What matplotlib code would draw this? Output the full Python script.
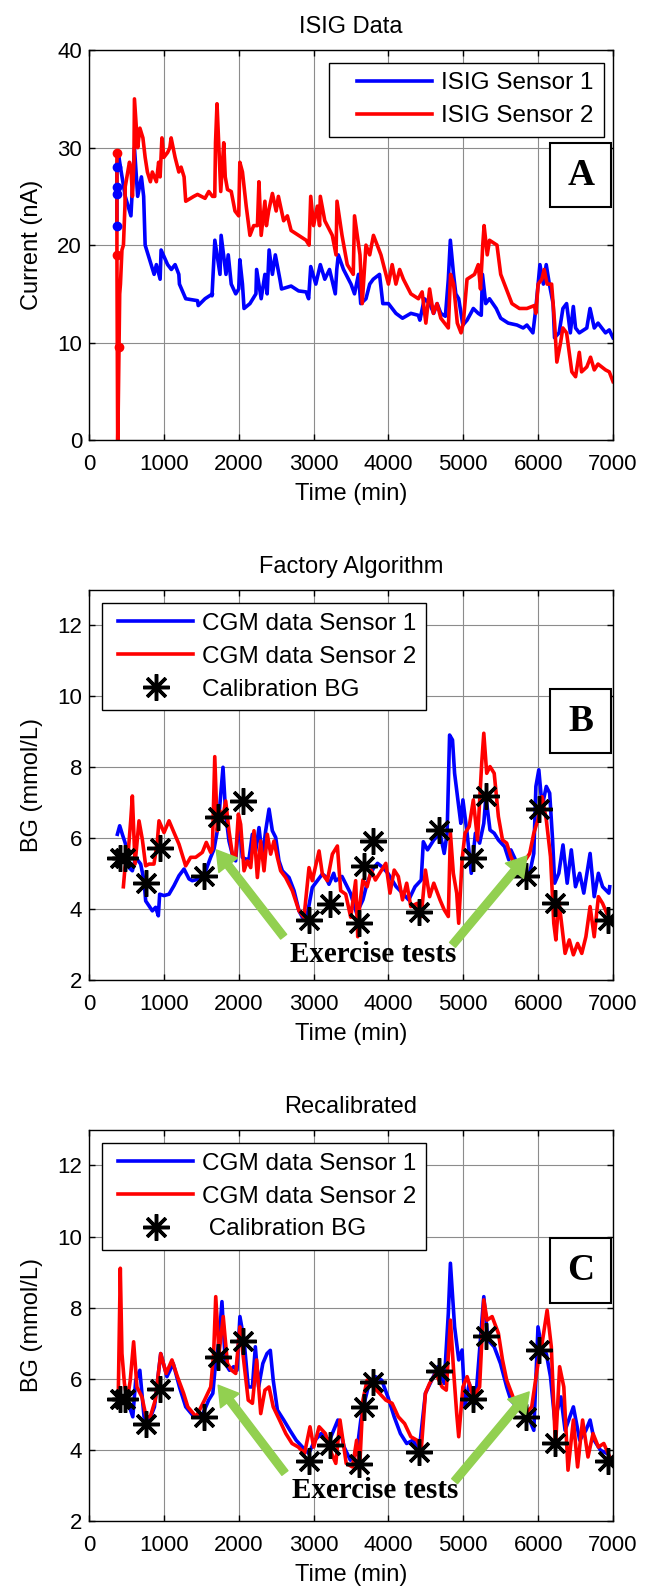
import numpy as np
import matplotlib
matplotlib.use('Agg')
import matplotlib.pyplot as plt
from matplotlib.patches import Rectangle
from matplotlib.lines import Line2D
from matplotlib.legend_handler import HandlerLine2D

plt.rcParams['font.family'] = ['Liberation Sans', 'DejaVu Sans']
plt.rcParams['font.size'] = 16

# ---------------- data ----------------
# Panel A: ISIG (nA)
isig1_t = [373, 373, 373, 373, 380, 400, 420, 484, 560, 607, 650, 700, 730, 750, 790, 870, 900, 950, 963, 1050,
           1100, 1150, 1200, 1208, 1292, 1450, 1459, 1550, 1650, 1643, 1681, 1750, 1765, 1830, 1860, 1900, 1960,
           2000, 2015, 2050, 2071, 2150, 2230, 2239, 2300, 2350, 2380, 2406, 2450, 2489, 2550, 2572, 2700, 2800,
           2900, 2934, 2962, 3030, 3090, 3150, 3213, 3290, 3310, 3330, 3400, 3500, 3547, 3600, 3630, 3700, 3750,
           3797, 3881, 3925, 4000, 4100, 4188, 4300, 4399, 4420, 4480, 4550, 4605, 4650, 4700, 4761, 4800, 4827,
           4870, 4900, 4939, 4994, 5050, 5100, 5134, 5200, 5240, 5256, 5300, 5350, 5440, 5500, 5600, 5718, 5800,
           5850, 5930, 5969, 6024, 6070, 6108, 6150, 6200, 6219, 6280, 6331, 6380, 6430, 6470, 6500, 6550, 6650,
           6693, 6750, 6800, 6900, 6950, 7000]
isig1_v = [22.0, 25.2, 26.0, 28.0, 28.5, 29.0, 28.0, 25.0, 23.0, 30.0, 25.0, 27.0, 25.0, 20.0, 19.0, 17.0, 18.0, 16.5, 19.5, 18.0,
           17.5, 18.0, 17.0, 16.0, 14.5, 14.3, 13.8, 14.5, 15.0, 14.8, 20.5, 17.0, 21.0, 17.0, 19.0, 16.0, 15.0,
           15.5, 18.5, 16.0, 13.5, 14.0, 15.0, 17.5, 14.5, 17.0, 15.0, 19.5, 17.0, 19.0, 16.5, 15.5, 15.8, 15.3,
           15.2, 14.5, 17.8, 16.0, 18.0, 16.5, 17.5, 15.0, 17.5, 19.0, 17.5, 16.0, 15.0, 17.0, 14.0, 14.5, 16.0,
           16.5, 17.0, 14.0, 14.0, 13.0, 12.5, 13.0, 12.8, 12.3, 14.5, 14.0, 13.0, 14.0, 13.0, 12.7, 16.5, 20.5,
           17.0, 15.0, 14.5, 11.8, 12.3, 13.0, 13.5, 13.0, 12.8, 17.0, 14.0, 14.5, 13.5, 12.5, 12.0, 11.8, 11.5,
           11.8, 11.0, 13.5, 18.0, 16.0, 18.0, 16.0, 14.0, 10.5, 11.0, 13.5, 14.0, 11.0, 13.7, 11.5, 11.0, 11.5,
           13.5, 11.5, 12.0, 11.0, 11.3, 10.5]
isig2_t = [373, 373, 383, 390, 401, 410, 420, 440, 460, 480, 484, 540, 560, 580, 600, 607, 650, 680, 720, 750,
           780, 820, 846, 900, 930, 950, 974, 1000, 1050, 1080, 1097, 1150, 1200, 1230, 1270, 1292, 1400, 1450,
           1550, 1600, 1650, 1680, 1690, 1710, 1740, 1760, 1800, 1820, 1850, 1900, 1950, 2000, 2015, 2050, 2100,
           2150, 2200, 2250, 2270, 2300, 2350, 2370, 2400, 2450, 2500, 2530, 2600, 2650, 2700, 2800, 2900, 2940,
           2962, 3000, 3050, 3080, 3090, 3150, 3250, 3300, 3313, 3380, 3450, 3530, 3547, 3620, 3650, 3700, 3750,
           3800, 3850, 3900, 3950, 4000, 4050, 4100, 4150, 4200, 4300, 4400, 4450, 4500, 4550, 4600, 4650, 4700,
           4750, 4800, 4830, 4870, 4920, 4970, 5000, 5050, 5150, 5200, 5230, 5260, 5278, 5320, 5350, 5450, 5500,
           5600, 5650, 5750, 5850, 5950, 5970, 6000, 6050, 6080, 6120, 6180, 6220, 6250, 6300, 6330, 6380, 6450,
           6500, 6550, 6580, 6650, 6700, 6750, 6800, 6900, 6950, 7000]
isig2_v = [29.5, 19.0, 0.0, 3.0, 9.5, 15.0, 16.0, 19.5, 20.0, 24.0, 26.0, 28.5, 28.0, 25.0, 28.5, 35.0, 30.0, 32.0, 31.0, 29.0,
           27.5, 26.5, 27.5, 26.5, 28.5, 27.0, 31.0, 29.0, 29.5, 30.0, 31.0, 29.0, 27.5, 28.0, 27.0, 24.5, 25.0, 25.2,
           24.8, 25.5, 25.0, 25.0, 30.5, 34.5, 29.0, 25.5, 30.5, 27.0, 25.7, 25.5, 23.5, 23.0, 28.5, 27.5, 24.0,
           21.0, 22.0, 22.0, 26.5, 21.0, 24.5, 22.0, 23.5, 25.3, 23.5, 25.0, 22.5, 23.0, 21.5, 21.0, 20.5, 20.0,
           25.0, 22.0, 24.0, 22.0, 25.0, 22.5, 21.0, 19.0, 24.5, 21.0, 18.0, 17.0, 23.0, 19.0, 14.0, 20.0, 19.0,
           21.0, 20.0, 19.0, 17.5, 16.0, 18.0, 16.0, 17.5, 16.5, 15.0, 14.5, 15.2, 12.0, 15.5, 13.0, 14.0, 12.5,
           12.0, 11.5, 17.0, 16.0, 12.0, 11.0, 12.0, 16.5, 17.0, 18.0, 15.5, 20.0, 22.0, 19.0, 20.5, 20.0, 17.0,
           15.0, 14.0, 13.5, 13.5, 13.8, 13.0, 16.0, 16.5, 17.5, 16.0, 16.0, 12.0, 8.0, 10.0, 11.5, 11.0, 7.0,
           6.5, 9.0, 7.0, 7.5, 8.5, 7.2, 7.8, 7.2, 7.0, 6.0]
# start-up points drawn with dots
isig1_dot_t = [373, 373, 373, 373]
isig1_dot_v = [28.0, 26.0, 25.2, 22.0]
isig2_dot_t = [373, 373, 401]
isig2_dot_v = [29.5, 19.0, 9.5]

# Calibration blood glucose (mmol/L)
cal_t = [418, 485, 763, 947, 1531, 1726, 2061, 2935, 3213, 3603, 3670, 3798, 4411, 4672, 5135, 5302, 5842, 6014,
         6221, 6933]
cal_v = [5.43, 5.43, 4.73, 5.72, 4.93, 6.61, 7.05, 3.69, 4.14, 3.6, 5.22, 5.92, 3.93, 6.23, 5.43, 7.19, 4.92, 6.82,
         4.18, 3.69]

# Panel B: factory algorithm
fac1_t = [379, 410, 445, 481, 512, 534, 579, 623, 690, 735, 757, 802, 846, 890, 926, 944, 1002, 1069, 1135, 1202,
          1269, 1336, 1380, 1470, 1559, 1625, 1670, 1714, 1745, 1790, 1826, 1870, 1924, 1959, 2004, 2048, 2093,
          2137, 2182, 2227, 2271, 2316, 2360, 2405, 2449, 2494, 2538, 2583, 2672, 2739, 2805, 2850, 2917, 2983,
          3050, 3117, 3158, 3206, 3269, 3295, 3380, 3492, 3575, 3659, 3715, 3798, 3854, 3910, 3993, 4104, 4188,
          4271, 4355, 4438, 4466, 4522, 4606, 4689, 4745, 4784, 4817, 4856, 4884, 4939, 4967, 4995, 5051, 5107,
          5162, 5218, 5274, 5302, 5357, 5413, 5469, 5552, 5608, 5636, 5719, 5803, 5887, 5942, 5970, 6009, 6053,
          6109, 6154, 6193, 6221, 6276, 6332, 6388, 6443, 6499, 6555, 6610, 6694, 6749, 6805, 6861, 6945, 6956]
fac1_v = [6.11, 6.35, 6.11, 5.88, 5.64, 5.17, 5.08, 5.46, 5.27, 4.8, 4.23, 4.09, 3.95, 4.05, 3.81, 4.42, 4.38, 4.42,
          4.66, 4.94, 5.13, 4.85, 4.8, 4.85, 5.08, 5.46, 5.69, 6.21, 6.86, 8.0, 6.68, 5.92, 5.46, 5.36, 6.58, 5.46,
          5.41, 5.41, 6.11, 5.64, 6.3, 5.46, 6.21, 6.82, 6.21, 6.02, 5.36, 5.08, 4.89, 4.52, 3.95, 3.77, 3.86,
          4.61, 4.8, 4.99, 4.92, 4.7, 5.01, 4.8, 4.92, 4.45, 3.88, 4.26, 4.73, 5.15, 5.29, 5.2, 5.01, 4.63, 4.45,
          4.26, 4.63, 4.82, 5.9, 5.67, 5.95, 6.14, 5.57, 6.14, 8.91, 8.77, 7.83, 6.89, 6.42, 7.08, 6.14, 5.01,
          6.14, 5.86, 6.42, 7.17, 6.23, 6.14, 5.95, 5.76, 5.39, 5.67, 5.29, 5.1, 5.01, 5.57, 7.46, 7.93, 6.89,
          7.46, 7.27, 5.95, 4.73, 5.01, 5.81, 4.73, 5.67, 4.63, 5.01, 4.45, 5.57, 4.35, 5.01, 4.63, 4.45, 4.63]
fac2_t = [459, 481, 525, 557, 579, 615, 668, 712, 757, 802, 868, 913, 935, 1002, 1069, 1135, 1202, 1291, 1358,
          1425, 1514, 1567, 1625, 1648, 1680, 1714, 1750, 1781, 1826, 1870, 1915, 1959, 1995, 2026, 2071, 2115,
          2160, 2204, 2249, 2293, 2338, 2382, 2427, 2471, 2516, 2560, 2627, 2716, 2805, 2872, 2939, 2983, 3073,
          3117, 3184, 3251, 3318, 3362, 3429, 3496, 3562, 3590, 3614, 3659, 3715, 3770, 3826, 3882, 3965, 4021,
          4077, 4132, 4188, 4244, 4299, 4383, 4438, 4494, 4550, 4606, 4689, 4745, 4800, 4828, 4867, 4912, 4939,
          4984, 5023, 5079, 5134, 5190, 5246, 5274, 5313, 5357, 5413, 5469, 5524, 5580, 5636, 5719, 5831, 5887,
          5942, 5998, 6053, 6109, 6165, 6209, 6237, 6276, 6360, 6416, 6471, 6527, 6583, 6638, 6694, 6749, 6805,
          6861, 6917]
fac2_v = [4.63, 5.17, 5.64, 6.49, 7.19, 5.27, 6.49, 5.97, 5.22, 5.27, 5.27, 5.92, 6.49, 6.16, 6.49, 6.16, 5.83,
          5.22, 5.46, 5.46, 5.6, 5.88, 5.6, 5.69, 8.3, 6.21, 6.77, 6.49, 7.05, 6.21, 5.55, 5.46, 6.68, 6.39, 5.08,
          5.36, 5.17, 6.21, 4.89, 5.92, 5.08, 6.11, 5.55, 5.92, 5.46, 5.08, 4.89, 4.52, 3.95, 3.77, 5.17, 4.8,
          5.64, 4.99, 4.8, 5.55, 5.78, 4.52, 4.42, 3.77, 4.8, 3.22, 4.07, 4.82, 4.63, 5.1, 4.82, 5.01, 5.29, 4.45,
          5.1, 4.92, 4.26, 4.73, 4.07, 4.16, 3.79, 5.1, 4.35, 4.73, 4.26, 3.98, 3.79, 6.14, 5.01, 4.45, 3.6, 5.39,
          6.14, 6.33, 7.08, 5.95, 8.11, 8.96, 7.83, 8.02, 7.83, 6.61, 5.95, 5.86, 5.48, 5.1, 5.39, 5.57, 6.14,
          6.52, 7.17, 6.52, 5.48, 3.6, 3.13, 4.26, 2.75, 3.13, 2.71, 3.03, 2.75, 3.22, 4.07, 3.22, 4.35, 4.16, 3.88]

# Panel C: recalibrated
rec1_t = [401, 485, 540, 585, 624, 679, 735, 791, 874, 958, 1041, 1125, 1208, 1292, 1403, 1515, 1598, 1654, 1682,
          1737, 1776, 1821, 1877, 1932, 1977, 2016, 2071, 2127, 2183, 2222, 2266, 2322, 2378, 2422, 2461, 2517,
          2601, 2684, 2768, 2851, 2935, 3018, 3102, 3213, 3325, 3408, 3492, 3575, 3631, 3687, 3742, 3826, 3910,
          3993, 4077, 4160, 4244, 4327, 4411, 4494, 4578, 4661, 4745, 4800, 4828, 4884, 4939, 4984, 5023, 5079,
          5162, 5274, 5329, 5413, 5497, 5580, 5636, 5719, 5803, 5887, 5942, 5998, 6053, 6109, 6165, 6221, 6304,
          6360, 6471, 6555, 6638, 6694, 6749, 6833, 6917]
rec1_v = [5.45, 5.45, 5.21, 4.93, 5.96, 6.24, 4.93, 4.74, 5.21, 6.71, 6.06, 6.43, 5.77, 5.21, 4.93, 4.98, 5.4, 5.59,
          6.24, 7.09, 8.17, 6.43, 6.24, 6.34, 6.24, 7.75, 7.09, 5.77, 5.77, 6.9, 5.77, 6.43, 6.71, 6.8, 5.96, 5.12,
          4.84, 4.55, 4.27, 4.08, 3.9, 4.27, 4.46, 4.27, 4.84, 4.08, 3.71, 3.9, 4.84, 5.4, 5.87, 6.06, 5.96, 5.49,
          4.93, 4.46, 4.18, 4.27, 3.99, 5.59, 5.96, 6.34, 5.87, 7.84, 9.25, 7.46, 6.53, 6.81, 5.21, 5.87, 5.31,
          8.31, 7.09, 6.9, 6.43, 5.77, 5.4, 5.21, 5.02, 4.84, 4.55, 7.46, 6.81, 6.71, 6.06, 4.84, 5.49, 4.55,
          5.21, 4.27, 4.55, 4.84, 4.27, 3.99, 3.9]
rec2_t = [390, 418, 440, 473, 512, 551, 596, 640, 707, 763, 818, 885, 958, 1030, 1108, 1181, 1264, 1320, 1431,
          1543, 1626, 1665, 1693, 1737, 1793, 1849, 1905, 1960, 2016, 2071, 2127, 2183, 2239, 2294, 2350, 2405,
          2461, 2545, 2629, 2712, 2796, 2879, 2952, 3002, 3074, 3158, 3241, 3297, 3353, 3436, 3520, 3575, 3614,
          3659, 3715, 3798, 3881, 3965, 4049, 4132, 4216, 4299, 4383, 4438, 4494, 4550, 4633, 4717, 4773, 4828,
          4873, 4912, 4939, 4995, 5051, 5134, 5218, 5274, 5318, 5385, 5469, 5524, 5580, 5664, 5747, 5831, 5914,
          5998, 6053, 6120, 6176, 6232, 6287, 6343, 6399, 6471, 6527, 6594, 6666, 6733, 6805, 6877, 6956]
rec2_v = [5.4, 9.11, 6.71, 5.87, 5.4, 5.96, 7.04, 5.77, 5.49, 4.93, 4.93, 5.4, 6.71, 6.15, 6.53, 6.06, 5.59, 5.21,
          4.93, 5.4, 5.77, 6.71, 8.31, 6.71, 7.75, 6.43, 6.24, 6.15, 7.46, 6.43, 5.4, 5.31, 6.53, 5.02, 5.68,
          5.77, 5.21, 4.84, 4.46, 4.18, 4.08, 3.9, 4.65, 4.08, 4.65, 4.46, 3.9, 3.62, 4.84, 3.62, 3.52, 4.27,
          3.43, 5.4, 5.96, 5.77, 5.59, 5.4, 5.31, 4.93, 4.74, 4.37, 4.27, 3.99, 5.59, 5.87, 6.15, 5.77, 5.68,
          7.65, 6.15, 5.02, 4.37, 5.77, 6.06, 5.49, 5.77, 8.22, 7.65, 7.75, 7.28, 6.53, 5.96, 5.49, 5.12, 5.02,
          5.21, 6.43, 7.0, 7.93, 6.9, 4.08, 6.34, 5.77, 3.43, 4.84, 3.52, 4.84, 3.8, 4.46, 4.08, 4.18, 3.8]

# arrows (tail -> head) and annotation positions
arrows_b = [((2600, 3.22), (1700, 5.67)), ((4856, 2.99), (5850, 5.5))]
arrows_c = [((2617, 3.35), (1725, 5.82)), ((4884, 3.12), (5880, 5.63))]
text_b = (3800, 2.71)
text_c = (3820, 2.85)

BLUE = '#0000ff'
RED = '#ff0000'
GREEN = '#92d050'
STAR = (8, 2, 0)
FS = 17.5

fig = plt.figure(figsize=(6.54, 15.87), dpi=100)
axA = fig.add_axes([0.1361, 0.7227, 0.8012, 0.2457])
axB = fig.add_axes([0.1361, 0.3825, 0.8012, 0.2457])
axC = fig.add_axes([0.1361, 0.0416, 0.8012, 0.2464])


def style(ax):
    ax.set_xlim(0, 7000)
    ax.set_xticks(range(0, 7001, 1000))
    ax.grid(True, color='0.55', linewidth=0.8)
    ax.set_axisbelow(True)
    ax.tick_params(direction='in', top=True, right=True, length=4, width=1, labelsize=16)
    ax.tick_params(axis='x', pad=10)
    ax.tick_params(axis='y', pad=5)
    for s in ax.spines.values():
        s.set_linewidth(1.0)
    ax.set_xlabel('Time (min)', fontsize=17, labelpad=6)


def letter_box(ax, letter, y0, y1):
    ax.add_patch(Rectangle((0.88, y0), 0.117, y1 - y0, transform=ax.transAxes, facecolor='white',
                           edgecolor='black', linewidth=1.5, zorder=5))
    ax.text(0.9385, (y0 + y1) / 2, letter, transform=ax.transAxes, ha='center', va='center',
            family='Liberation Serif', weight='bold', fontsize=27, zorder=6)


def add_legend(ax, loc, anchor, xpad):
    leg = ax.legend(loc=loc, bbox_to_anchor=anchor, fancybox=False, edgecolor='black', framealpha=1,
                    handlelength=3.1 + xpad, handletextpad=0.37, borderpad=0.4, labelspacing=0.45,
                    fontsize=FS, borderaxespad=0,
                    handler_map={Line2D: HandlerLine2D(xpad=xpad)})
    leg.get_frame().set_linewidth(1.0)
    leg.set_zorder(7)
    return leg


# ---- A ----
axA.plot(isig1_t, isig1_v, color=BLUE, lw=2.6, label='ISIG Sensor 1')
axA.plot(isig2_t, isig2_v, color=RED, lw=2.6, label='ISIG Sensor 2')
axA.plot(isig1_dot_t, isig1_dot_v, 'o', color=BLUE, ms=6)
axA.plot(isig2_dot_t, isig2_dot_v, 'o', color=RED, ms=6)
style(axA)
axA.set_ylim(0, 40)
axA.set_yticks(range(0, 41, 10))
axA.set_ylabel('Current (nA)', fontsize=17, labelpad=10)
axA.set_title('ISIG Data', fontsize=17, pad=12)
add_legend(axA, 'upper right', (0.982, 0.968), 0.75)
letter_box(axA, 'A', 0.597, 0.762)


def bg_panel(ax, t1, v1, t2, v2, title, letter, y0, y1, arrows, tpos, cal_label):
    ax.plot(t1, v1, color=BLUE, lw=2.6, label='CGM data Sensor 1')
    ax.plot(t2, v2, color=RED, lw=2.6, label='CGM data Sensor 2')
    ax.plot(cal_t, cal_v, linestyle='none', marker=STAR, color='black', ms=19, mew=2.5, label=cal_label)
    style(ax)
    ax.set_ylim(2, 13)
    ax.set_yticks(range(2, 13, 2))
    ax.set_ylabel('BG (mmol/L)', fontsize=17, labelpad=10)
    ax.set_title(title, fontsize=17, pad=12)
    add_legend(ax, 'upper left', (0.025, 0.967), 0.26)
    letter_box(ax, letter, y0, y1)
    for tail, head in arrows:
        ax.annotate('', xy=head, xytext=tail,
                    arrowprops=dict(facecolor=GREEN, edgecolor=GREEN, width=5.5, headwidth=17, headlength=14,
                                    shrink=0))
    ax.text(tpos[0], tpos[1], 'Exercise tests', ha='center', va='center', family='Liberation Serif',
            weight='bold', fontsize=21)


bg_panel(axB, fac1_t, fac1_v, fac2_t, fac2_v, 'Factory Algorithm', 'B', 0.581, 0.745, arrows_b, text_b,
         'Calibration BG')
bg_panel(axC, rec1_t, rec1_v, rec2_t, rec2_v, 'Recalibrated', 'C', 0.558, 0.723, arrows_c, text_c,
         ' Calibration BG')

fig.savefig('out.png', dpi=100)
